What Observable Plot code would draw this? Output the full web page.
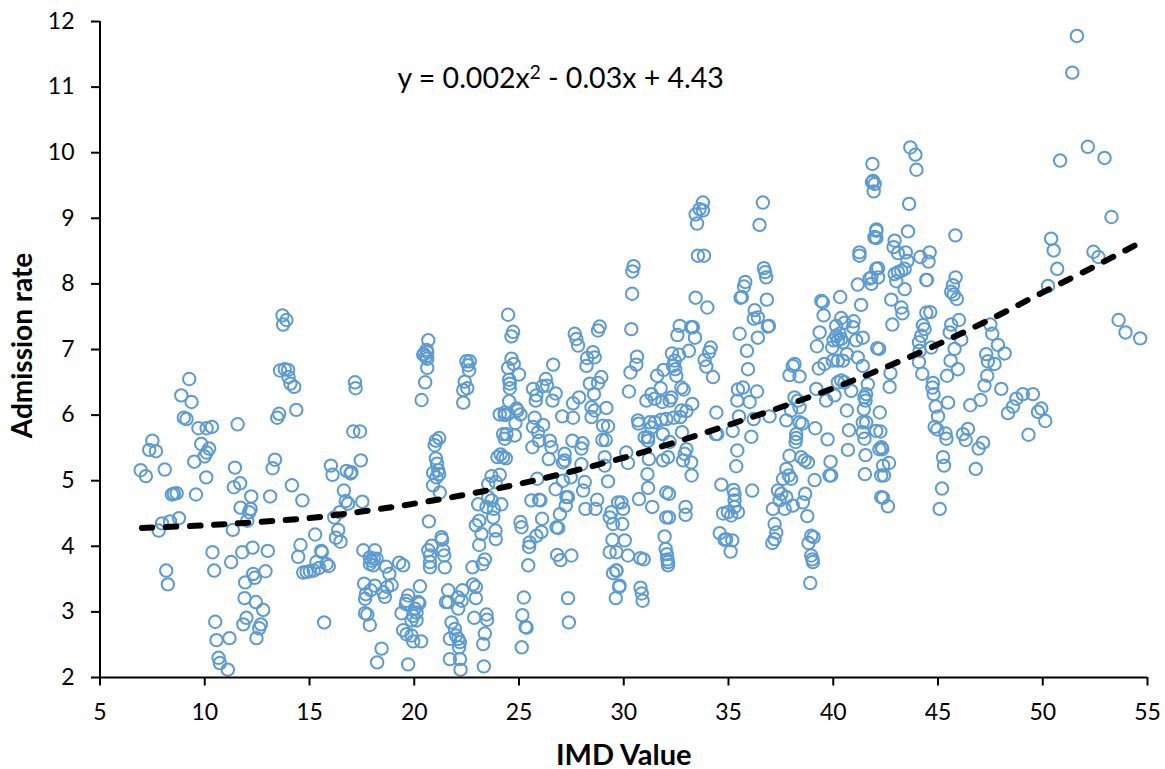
<!DOCTYPE html>
<html><head><meta charset="utf-8">
<script src="https://cdn.jsdelivr.net/npm/d3@7"></script>
<script src="https://cdn.jsdelivr.net/npm/@observablehq/plot@0.6"></script>
<style>html,body{margin:0;padding:0;background:#fff}svg{display:block}</style>
</head><body><div id="chart"></div>
<script>
const imdValues = [
9.26,8.88,9.37,9.0,9.13,9.7,10.09,10.34,11.57,9.83,10.21,10.09,9.99,9.5,10.07,7.5,7.35,7.67,8.09,6.94,7.19,11.44,11.69,11.39,9.58,8.43,8.53,8.66,12.22,11.71,12.19,12.12,12.03,13.12,14.16,14.66,13.35,13.24,8.77,8.34,7.96,7.8,11.34,
16.02,16.1,16.77,16.96,16.64,16.73,16.84,16.45,16.18,15.27,16.37,16.26,16.48,14.57,14.46,15.56,15.59,10.37,10.45,11.26,11.79,12.28,13.01,12.9,12.31,12.39,11.93,11.9,12.44,12.79,11.99,11.84,12.68,12.6,12.47,10.5,10.56,11.18,10.66,10.72,11.1,15.7,8.16,8.24,
14.7,14.86,15.02,15.2,15.46,15.33,15.81,15.92,13.71,13.9,13.74,13.59,13.82,13.98,14.0,14.09,14.27,14.37,13.55,13.46,17.17,17.2,17.09,17.41,17.45,17.0,17.52,
17.57,18.12,17.88,17.96,18.07,17.88,18.04,18.2,18.65,18.81,18.92,18.71,18.52,18.6,19.28,19.47,17.61,17.65,17.69,18.12,17.92,17.65,17.76,17.88,18.44,18.23,19.71,20.27,19.71,19.63,19.6,20.19,20.24,20.03,20.11,19.95,19.39,19.87,20.11,19.47,19.63,19.87,19.95,20.33,
20.67,20.59,20.62,20.46,20.55,20.43,20.62,20.62,20.52,20.35,21.19,21.03,20.98,21.03,21.09,21.14,20.9,21.19,21.06,20.9,21.22,20.7,21.3,21.33,20.83,20.67,20.75,21.38,21.43,20.75,20.75,21.46,
21.62,21.51,21.62,22.3,22.1,22.26,22.1,21.78,21.94,21.7,21.99,22.1,22.18,22.14,22.18,22.21,21.7,22.81,22.94,22.94,22.86,23.45,23.48,23.37,23.29,23.32,22.41,22.34,22.53,22.34,22.49,22.65,22.57,22.62,
24.48,24.72,24.64,24.64,24.75,24.48,25.0,24.53,24.56,24.56,24.53,24.08,24.32,24.48,24.32,24.88,24.93,25.07,24.83,24.24,24.4,24.32,24.8,23.97,24.12,24.24,24.37,23.69,24.08,23.53,23.89,23.05,23.53,23.69,23.45,24.16,23.8,23.77,23.1,22.94,23.21,23.1,23.88,23.89,23.37,23.26,22.78,
25.07,25.12,25.59,25.96,26.02,25.87,26.1,26.07,25.83,25.51,25.48,25.44,25.23,25.16,25.31,25.36,25.13,27.34,27.38,26.82,26.98,27.5,26.79,26.87,26.95,27.26,27.34,27.23,26.75,27.1,
25.67,25.83,25.8,25.75,25.67,25.91,26.15,25.96,25.64,26.28,26.12,26.34,26.75,26.6,26.63,26.47,26.55,26.42,27.06,27.58,27.58,27.87,27.55,27.98,28.03,27.18,27.18,27.1,27.98,28.14,28.06,27.47,28.17,28.65,28.73,29.25,
27.66,27.74,27.82,28.85,28.77,28.53,28.25,28.61,28.22,28.93,28.38,28.77,28.58,28.46,28.61,28.46,29.17,29.01,29.25,28.98,29.14,29.09,29.09,29.41,29.33,29.49,29.73,29.46,29.33,29.65,29.49,29.65,29.62,29.78,
33.78,33.62,33.78,33.43,33.5,36.64,36.48,33.54,33.83,42.05,41.97,41.25,41.25,42.05,41.73,41.17,40.33,41.33,30.47,30.41,30.4,30.36,36.69,36.75,36.8,35.8,35.74,35.64,35.58,36.83,36.25,36.21,36.4,36.93,36.88,33.43,33.99,32.67,33.22,33.3,32.56,33.4,33.11,34.15,34.07,33.86,33.94,34.26,35.53,36.4,35.88,35.93,
32.3,32.64,32.43,32.35,32.46,32.51,31.9,31.59,30.63,30.6,30.32,30.25,31.32,31.08,31.48,31.76,31.84,32.27,32.19,32.75,32.86,35.45,35.69,36.36,35.42,36.01,33.27,32.75,32.99,32.7,32.38,34.42,35.5,30.68,30.71,31.24,31.48,31.79,32.03,31.32,32.78,31,31.16,31.16,31.87,32.19,
32.91,33.22,32.99,32.11,31.87,32.83,30.12,30.2,31.2,31.13,31.16,33.24,30.73,31.36,32.03,32.16,32.95,32.95,32.03,32.16,29.89,29.97,29.93,30.05,30.2,30.79,30.95,31.95,32.0,32.06,32.08,32.11,32.11,30.8,30.86,30.9,29.65,29.8,
34.66,36.13,35.24,35.29,35.29,34.74,34.97,35.29,35.45,35.13,34.58,34.89,34.81,35.18,35.1,35.2,34.39,34.46,36.09,36.96,36.2,35.42,35.37,
38.15,38.07,37.91,38.39,39.19,39.66,40.06,39.31,39.58,38.15,38.31,38.39,37.99,37.76,38.39,38.52,39.14,39.73,38.23,38.23,38.2,37.91,38.47,38.63,38.79,39.87,39.82,39.9,39.11,
37.76,37.88,37.99,37.6,37.36,37.52,37.76,37.44,37.12,37.68,38.07,38.55,38.66,38.76,37.2,37.28,37.2,37.09,38.95,39.06,38.82,38.95,39.0,39.03,38.9,
39.43,39.5,39.54,39.35,39.22,40.14,40.38,40.54,40.97,40.94,40.3,40.14,40.38,40.01,40.22,40.46,41.41,41.09,39.95,42.1,40.65,41.17,40.22,40.46,39.98,41.41,40.38,40.54,40.22,40.86,41.65,41.57,41.49,41.54,41.46,40.65,40.75,41.41,41.57,41.41,41.49,41.54,40.7,41.51,42.05,42.2,42.29,42.29,
51.63,51.41,52.15,50.83,52.95,53.28,43.68,43.92,43.97,41.87,41.9,41.98,41.93,41.85,43.62,45.83,50.4,50.52,52.42,52.66,50.69,50.25,42.06,41.98,42.06,43.57,42.93,42.88,43.09,43.46,43.54,44.16,44.6,44.55,42.14,42.14,41.82,41.82,42.93,43.09,43.25,43.41,43.01,43.41,44.44,44.47,45.84,45.71,45.63,45.75,45.9,42.77,43.25,43.3,44.44,44.63,46.0,
42.82,45.63,44.28,44.36,44.2,44.09,44.68,44.12,44.09,44.25,45.56,46.11,45.79,45.6,45.95,45.43,47.5,47.59,47.86,48.18,47.3,47.38,47.7,47.35,47.22,48.02,42.19,42.73,42.69,44.76,44.73,44.79,44.89,45.48,45.0,44.84,44.97,45.36,45.4,46.54,47.03,46.43,46.19,46.32,47.15,46.94,46.8,45.24,45.29,45.19,45.08,
48.34,48.58,48.74,49.05,49.53,49.93,49.77,50.12,49.32,53.62,53.95,54.65,42.22,42.25,42.3,42.34,42.66,42.38,42.42,42.38,42.61
];
const admissionRates = [
6.55,6.30,6.20,5.96,5.94,5.80,5.80,5.82,5.86,5.56,5.49,5.43,5.37,5.29,5.05,5.61,5.47,5.45,5.17,5.16,5.07,5.2,4.96,4.9,4.79,4.79,4.80,4.81,4.76,4.59,4.57,4.52,4.39,4.76,4.93,4.70,5.32,5.19,4.43,4.38,4.35,4.24,4.25,
5.23,5.09,5.15,5.11,4.85,4.69,4.65,4.52,4.44,4.18,4.25,4.13,4.07,4.02,3.84,3.93,3.91,3.91,3.63,3.76,3.91,3.98,3.93,3.62,3.58,3.52,3.45,3.21,3.15,3.03,2.91,2.81,2.81,2.75,2.6,2.85,2.57,2.6,2.30,2.22,2.12,2.84,3.63,3.42,
3.6,3.61,3.62,3.63,3.67,3.76,3.73,3.70,7.52,7.45,7.38,6.68,6.70,6.69,6.58,6.48,6.43,6.08,6.02,5.96,6.50,6.41,5.75,5.75,5.31,5.13,4.68,
3.94,3.94,3.83,3.78,3.81,3.73,3.71,3.81,3.69,3.58,3.41,3.38,3.3,3.23,3.75,3.71,3.43,3.2,3.27,3.4,3.33,2.98,2.96,2.8,2.44,2.23,2.2,3.39,3.25,3.17,3.12,3.15,3.13,3.05,2.99,2.94,2.98,2.87,2.87,2.72,2.66,2.64,2.55,2.55,
7.14,6.995,6.96,6.93,6.89,6.92,6.86,6.72,6.50,6.23,5.65,5.61,5.54,5.34,5.26,5.16,5.12,5.1,5.05,4.93,4.82,4.38,4.14,4.1,4.01,3.94,3.86,3.94,3.86,3.76,3.68,3.68,
3.33,3.15,3.15,3.33,3.22,3.17,3.05,2.84,2.74,2.59,2.64,2.59,2.54,2.46,2.28,2.12,2.28,3.42,3.38,3.21,2.91,2.96,2.88,2.67,2.51,2.17,6.51,6.38,6.41,6.19,6.82,6.82,6.76,6.68,
7.53,7.27,7.2,6.86,6.78,6.72,6.62,6.54,6.48,6.41,6.21,6.01,6.04,6.02,6.0,6.1,6.07,6.01,5.88,5.71,5.71,5.64,5.69,5.36,5.4,5.36,5.34,5.07,5.09,4.95,4.98,4.64,4.75,4.7,4.6,4.64,4.57,4.44,4.39,4.32,4.19,4.02,4.24,4.11,3.8,3.73,3.68,
4.37,4.29,4.7,4.71,4.7,5.03,4.42,4.22,4.16,4.06,3.99,3.71,3.22,2.95,2.77,2.76,2.46,3.21,2.84,3.87,3.79,3.86,4.29,4.28,4.49,4.75,4.75,4.62,4.87,5.0,
6.4,6.3,6.22,5.96,5.82,5.74,5.85,5.61,5.51,6.55,6.44,6.45,6.33,6.22,6.77,5.61,5.51,5.33,5.98,5.96,6.18,6.27,5.61,5.49,5.57,5.41,5.31,5.28,5.25,4.98,4.85,5.05,4.57,4.57,4.71,4.99,
7.24,7.16,7.06,7.35,7.29,6.96,6.87,6.88,6.75,6.58,6.48,6.49,6.32,6.12,6.07,5.97,6.11,5.84,5.83,5.62,5.62,5.36,5.23,4.52,4.44,4.34,4.67,4.1,3.91,3.91,3.59,3.63,3.21,3.38,
9.24,9.14,9.12,9.06,8.92,9.24,8.9,8.43,8.43,8.81,8.71,8.48,8.43,8.23,8.08,7.99,7.8,7.68,8.27,8.19,7.85,7.31,8.24,8.18,8.1,8.03,7.96,7.8,7.79,7.76,7.6,7.47,7.49,7.36,7.35,7.79,7.64,7.36,7.34,7.34,7.22,7.18,6.98,7.03,6.96,6.84,6.74,6.58,7.24,7.18,6.98,6.7,
6.94,6.92,6.83,6.75,6.7,6.6,6.69,6.6,6.89,6.77,6.65,6.36,6.32,6.22,6.25,6.41,6.2,6.27,6.22,6.42,6.39,6.39,6.42,6.36,6.22,6.2,6.17,6.07,6.06,5.97,5.96,6.04,5.98,5.92,5.87,5.89,5.89,5.93,5.94,5.81,5.74,5.66,5.66,5.61,5.71,5.59,
5.41,5.28,5.48,5.36,5.31,5.31,5.43,5.27,5.33,5.1,4.89,5.08,4.72,4.6,4.82,4.8,4.6,4.48,4.44,4.44,4.67,4.57,4.34,4.09,3.86,3.82,3.8,4.15,3.96,3.88,3.8,3.76,3.71,3.37,3.28,3.17,3.63,3.4,
4.94,4.85,4.86,4.79,4.7,4.5,4.52,4.6,4.52,4.47,4.2,4.11,4.1,4.09,3.92,5.76,5.71,5.71,5.67,5.98,5.94,5.46,5.22,
6.78,6.75,6.61,6.59,6.4,6.22,6.3,6.71,6.78,6.27,6.22,6.12,6.07,5.92,5.89,5.87,5.8,5.63,5.71,5.65,5.59,5.38,5.36,5.31,5.28,5.29,5.08,5.08,5.01,
5.18,5.08,5.03,5.03,4.85,4.8,4.75,4.7,4.57,4.57,4.62,4.67,4.8,4.46,4.34,4.21,4.11,4.05,4.16,4.14,4.05,3.86,3.8,3.76,3.44,
7.74,7.72,7.52,7.26,7.05,7.36,7.48,7.41,7.43,7.34,7.24,7.21,7.16,7.14,7.14,7.11,7.18,7.14,7.03,7.02,6.93,6.88,6.83,6.83,6.83,6.75,6.53,6.5,6.5,6.37,6.47,6.32,6.27,6.22,6.09,6.07,5.77,5.89,5.89,5.74,5.64,5.39,5.47,5.1,5.76,5.48,5.08,4.75,
11.78,11.22,10.09,9.88,9.92,9.02,10.08,9.97,9.74,9.83,9.57,9.525,9.41,9.55,9.22,8.74,8.69,8.51,8.49,8.41,8.23,7.97,8.83,8.71,8.7,8.8,8.66,8.56,8.47,8.48,8.35,8.41,8.48,8.34,8.24,8.1,8.1,8.0,8.15,8.18,8.2,8.23,8.04,7.92,8.06,8.06,8.1,7.98,7.88,7.84,7.77,7.76,7.64,7.55,7.56,7.57,7.45,
7.38,7.38,7.37,7.31,7.21,7.11,7.03,6.98,6.81,6.63,7.26,7.15,7.01,6.83,6.7,6.6,7.38,7.24,7.07,6.94,6.93,6.82,6.78,6.6,6.45,6.4,7.01,6.64,6.43,6.49,6.42,6.32,6.13,6.19,5.98,5.82,5.78,5.72,5.64,6.15,6.23,5.79,5.71,5.62,5.58,5.49,5.18,5.36,5.23,4.88,4.57,
6.03,6.13,6.25,6.32,6.32,6.1,6.05,5.91,5.7,7.45,7.26,7.17,6.04,5.75,5.51,5.48,5.27,5.23,5.08,4.74,4.61
];
const trendX = [7,10,12.5,15,17.5,20,22.5,25,27.5,30,32.5,35,37.5,40,42.5,45,47.5,50,52.5,54.6];
const trendY = [4.28,4.32,4.37,4.43,4.53,4.65,4.79,4.95,5.14,5.35,5.59,5.85,6.12,6.41,6.73,7.08,7.46,7.87,8.27,8.62];
const xTicks = [5,10,15,20,25,30,35,40,45,50,55];
const yTicks = [2,3,4,5,6,7,8,9,10,11,12];
const equationParts = ["y = 0.002x", "2", " - 0.03x + 4.43"];
const equationX = [19.2], equationY = [11.13];
const n = Math.min(imdValues.length, admissionRates.length);
const points = d3.range(n).map(i => ({x: imdValues[i], y: admissionRates[i]}));
const trend = trendX.map((x,i) => ({x, y: trendY[i]}));
const font = "Lato, 'Open Sans', sans-serif";
const chart = Plot.plot({
  width: 1165, height: 769,
  marginLeft: 99.5, marginRight: 18, marginTop: 21, marginBottom: 92,
  style: {fontFamily: font, background: "#fff", color: "#000"},
  x: {domain: [5,55], ticks: xTicks, label: null},
  y: {domain: [2,12], ticks: yTicks, label: null},
  marks: [
    Plot.dot(points, {x:"x", y:"y", r:6.2, stroke:"#5b9bd5", strokeWidth:2, fill:"none"}),
    Plot.line(trend, {x:"x", y:"y", curve:"catmull-rom", stroke:"#000", strokeWidth:6, strokeDasharray:"10.5 13.5", strokeLinecap:"round"}),
    Plot.ruleX([5], {stroke:"#000", strokeWidth:2}),
    Plot.ruleY([2], {stroke:"#000", strokeWidth:2}),
    Plot.axisX({ticks:xTicks, tickSize:8.5, tickPadding:18, fontSize:23, strokeWidth:2, label:null}),
    Plot.axisY({ticks:yTicks, tickSize:8.5, tickPadding:17, fontSize:23, strokeWidth:2, label:null}),
    Plot.text(["IMD Value"], {frameAnchor:"bottom", dy:87, fontSize:29, fontWeight:"bold"}),
    Plot.text(["Admission rate"], {frameAnchor:"left", textAnchor:"middle", dx:-77, dy:-4, rotate:-90, fontSize:28, fontWeight:"bold"}),
    Plot.text([equationParts.join("")], {x:equationX, y:equationY, textAnchor:"start", fontSize:28.5, className:"equation"})
  ]
});
document.getElementById("chart").append(chart);
const eq = d3.select(chart).select(".equation text");
eq.text(null);
eq.append("tspan").text(equationParts[0]);
eq.append("tspan").attr("dy", -9).attr("font-size", 19).text(equationParts[1]);
eq.append("tspan").attr("dy", 9).text(equationParts[2]);
</script></body></html>
